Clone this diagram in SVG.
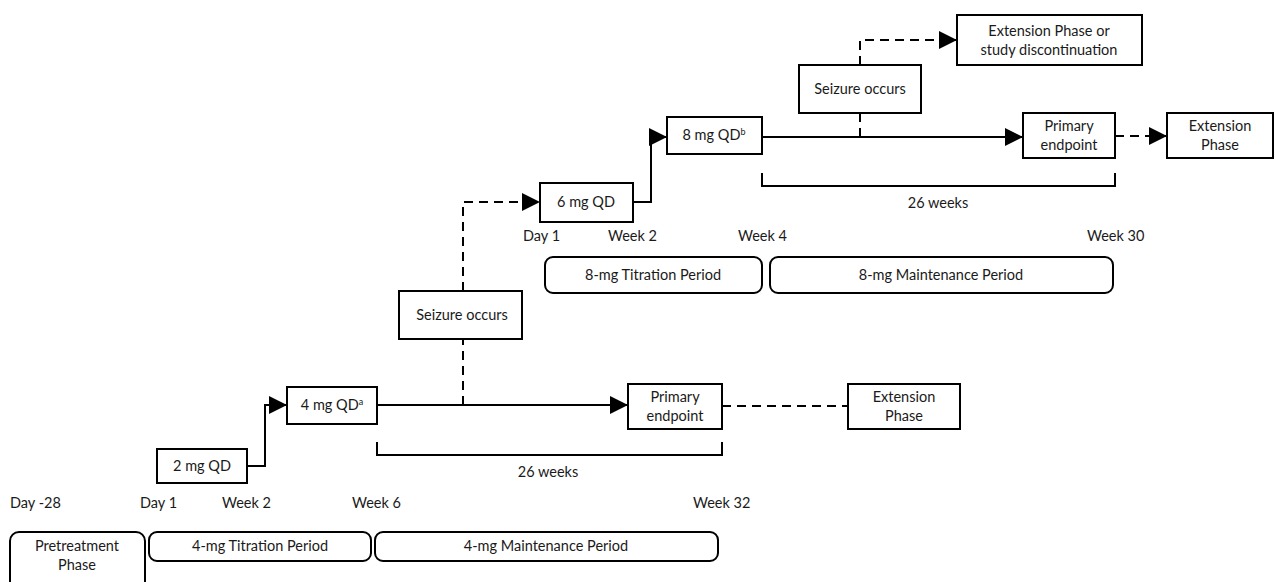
<svg xmlns="http://www.w3.org/2000/svg" width="1275" height="582" viewBox="0 0 1275 582">
<style>
.box{fill:#fff;stroke:#000;stroke-width:2}
.per{fill:#fff;stroke:#000;stroke-width:2}
.t{font-family:Lato,"Open Sans","Liberation Sans",sans-serif;font-size:14.5px;fill:#1a1a1a;text-anchor:middle}
.l{font-family:Lato,"Open Sans","Liberation Sans",sans-serif;font-size:14.5px;fill:#1a1a1a}
.ln{fill:none;stroke:#000;stroke-width:2}
.dash{fill:none;stroke:#000;stroke-width:2;stroke-dasharray:9 6}
.sup{font-size:9px}
</style>
<defs>
<marker id="ah" markerUnits="userSpaceOnUse" markerWidth="19" markerHeight="19" refX="18" refY="9" orient="auto">
<path d="M0,0 L18,9 L0,18 Z" fill="#000" stroke="none"/>
</marker>
</defs>
<rect width="1275" height="582" fill="#fff"/>

<g id="connectors">
<path class="ln" d="M247,466 H265 V405 H287" marker-end="url(#ah)"/>
<path class="ln" d="M377,405 H628" marker-end="url(#ah)"/>
<path class="dash" d="M722,406 H848"/>
<path class="dash" d="M463,405 V339"/>
<path class="dash" d="M463,291 V202 H540" marker-end="url(#ah)"/>
<path class="ln" d="M633,202 H651 V137 H667" marker-end="url(#ah)"/>
<path class="ln" d="M762,137 H1023" marker-end="url(#ah)"/>
<path class="dash" d="M860,137 V113"/>
<path class="dash" d="M860,65 V40 H957" marker-end="url(#ah)"/>
<path class="dash" d="M1115,136 H1167" marker-end="url(#ah)"/>
<path class="ln" d="M377,442 V455 H722 V442"/>
<path class="ln" d="M762,173 V186 H1115 V173"/>
</g>

<g id="pretreatment"><rect class="per" x="10" y="532" width="135" height="70" rx="9"/><text class="t" x="77" y="551">Pretreatment</text><text class="t" x="77" y="570">Phase</text></g>
<g id="titration4"><rect class="per" x="149" y="532" width="222" height="29" rx="8"/><text class="t" x="260" y="551">4-mg Titration Period</text></g>
<g id="maintenance4"><rect class="per" x="375" y="532" width="343" height="29" rx="8"/><text class="t" x="546" y="551">4-mg Maintenance Period</text></g>
<g id="titration8"><rect class="per" x="545" y="257" width="217" height="36" rx="8"/><text class="t" x="653" y="280">8-mg Titration Period</text></g>
<g id="maintenance8"><rect class="per" x="770" y="257" width="343" height="36" rx="8"/><text class="t" x="941" y="280">8-mg Maintenance Period</text></g>

<g id="labels-bottom">
<text class="l" x="10" y="508">Day -28</text>
<text class="l" x="140" y="508">Day 1</text>
<text class="l" x="222" y="508">Week 2</text>
<text class="l" x="352" y="508">Week 6</text>
<text class="l" x="693" y="508">Week 32</text>
<text class="t" x="548" y="477">26 weeks</text>
</g>
<g id="labels-top">
<text class="l" x="523" y="241">Day 1</text>
<text class="l" x="608" y="241">Week 2</text>
<text class="l" x="738" y="241">Week 4</text>
<text class="l" x="1087" y="241">Week 30</text>
<text class="t" x="938" y="208">26 weeks</text>
</g>

<g id="dose2"><rect class="box" x="157" y="449" width="90" height="34"/><text class="t" x="202" y="471">2 mg QD</text></g>
<g id="dose4"><rect class="box" x="287" y="387" width="90" height="37"/><text class="t" x="332" y="410">4 mg QD<tspan class="sup" dy="-5">a</tspan></text></g>
<g id="primary1"><rect class="box" x="628" y="384" width="94" height="45"/><text class="t" x="675" y="402">Primary</text><text class="t" x="675" y="421">endpoint</text></g>
<g id="extension1"><rect class="box" x="848" y="384" width="112" height="45"/><text class="t" x="904" y="402">Extension</text><text class="t" x="904" y="421">Phase</text></g>
<g id="seizure1"><rect class="box" x="399" y="291" width="123" height="48"/><text class="t" x="462" y="320">Seizure occurs</text></g>
<g id="dose6"><rect class="box" x="540" y="183" width="93" height="39"/><text class="t" x="586" y="207">6 mg QD</text></g>
<g id="dose8"><rect class="box" x="667" y="117" width="95" height="37"/><text class="t" x="714" y="140">8 mg QD<tspan class="sup" dy="-5">b</tspan></text></g>
<g id="seizure2"><rect class="box" x="799" y="65" width="122" height="48"/><text class="t" x="860" y="94">Seizure occurs</text></g>
<g id="extdisc"><rect class="box" x="957" y="15" width="185" height="50"/><text class="t" x="1049" y="36">Extension Phase or</text><text class="t" x="1049" y="55">study discontinuation</text></g>
<g id="primary2"><rect class="box" x="1023" y="113" width="92" height="45"/><text class="t" x="1069" y="131">Primary</text><text class="t" x="1069" y="150">endpoint</text></g>
<g id="extension2"><rect class="box" x="1167" y="113" width="106" height="45"/><text class="t" x="1220" y="131">Extension</text><text class="t" x="1220" y="150">Phase</text></g>
</svg>
